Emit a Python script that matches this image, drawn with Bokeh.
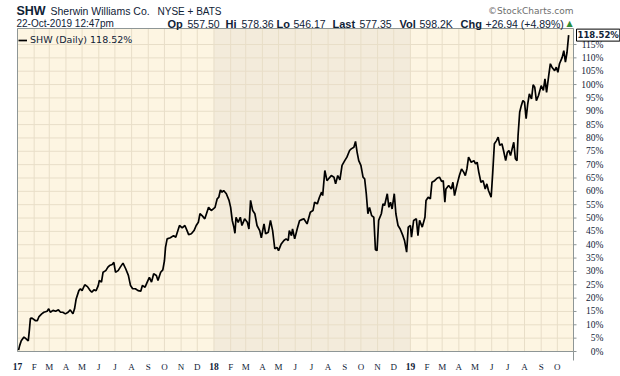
import pandas as pd
from bokeh.plotting import figure
from bokeh.models import Range1d, Label, LabelSet, ColumnDataSource, Legend, LegendItem
from bokeh.embed import file_html
from bokeh.resources import INLINE

# ---------------- data ----------------
ORIGIN = pd.Timestamp("2017-01-01")   # day 0 of the series

days_2017 = [2, 4, 7, 12, 15, 20, 22, 24, 27, 33, 37, 40, 45, 49, 55, 58, 61, 66, 71, 76,
             80, 84, 89, 94, 98, 103, 106, 109, 114, 117, 120, 125, 130, 134, 138, 142, 146, 150, 152, 156,
             159, 164, 168, 171, 176, 179, 182, 187, 191, 196, 201, 206, 210, 214, 219, 224, 229, 232, 237, 241,
             245, 249, 253, 258, 261, 266, 270, 273, 275, 278, 284, 290, 294, 297, 301, 306, 311, 315, 318, 323,
             328, 332, 336, 339, 343, 348, 352, 355, 360]
pct_2017 = [0.5, 2.2, 4.0, 5.4, 4.9, 4.0, 7.9, 12.4, 12.5, 11.6, 11.6, 13.1, 14.1, 14.7, 15.1, 16.0, 14.7, 15.4, 15.1, 15.6,
            14.7, 14.7, 14.1, 14.7, 15.6, 14.1, 16.0, 19.7, 22.8, 23.5, 22.8, 25.0, 24.3, 23.1, 22.2, 23.1, 22.8, 24.7, 26.6, 26.0,
            29.7, 30.3, 31.6, 32.2, 32.6, 33.4, 29.7, 30.3, 31.6, 33.1, 31.0, 28.5, 24.7, 23.5, 23.5, 22.8, 22.6, 24.7, 24.1, 26.0,
            27.8, 26.0, 29.1, 28.5, 26.6, 29.7, 30.6, 34.0, 39.0, 42.2, 42.6, 43.4, 42.8, 44.7, 47.2, 46.3, 47.2, 45.3, 43.8, 44.1,
            45.3, 47.2, 48.4, 51.6, 50.9, 49.7, 52.2, 54.0, 52.8]

days_2018 = [367, 371, 374, 377, 380, 383, 388, 393, 396, 399, 402, 404, 406, 410, 414, 417, 422, 427, 430, 433,
             437, 441, 445, 450, 453, 458, 461, 466, 470, 474, 478, 482, 485, 490, 495, 499, 503, 505, 509, 511,
             515, 520, 524, 528, 532, 538, 544, 549, 552, 557, 561, 565, 567, 571, 575, 578, 583, 588, 591, 595,
             599, 603, 608, 612, 617, 620, 625, 628, 631, 634, 638, 642, 645, 648, 651, 654, 658, 662, 665, 668,
             671, 676, 679, 682, 687, 690, 693, 696, 700, 703, 707, 711, 716, 719, 723, 726]
pct_2018 = [54.0, 57.2, 57.8, 60.5, 59.7, 60.3, 59.1, 56.6, 54.0, 49.1, 46.6, 44.3, 50.3, 48.4, 50.3, 47.2, 49.7, 48.4, 45.9, 56.6,
            52.8, 51.6, 47.2, 45.3, 42.6, 47.8, 44.1, 44.7, 49.1, 45.3, 38.5, 39.0, 37.8, 40.3, 41.6, 42.2, 41.6, 45.3, 43.4, 45.9,
            42.2, 46.2, 49.0, 49.4, 49.7, 47.8, 52.2, 52.8, 55.9, 55.3, 57.8, 59.7, 58.4, 67.8, 64.0, 64.7, 65.9, 65.3, 62.8, 65.9,
            64.3, 69.7, 71.5, 72.8, 75.3, 75.9, 76.5, 78.7, 74.6, 71.5, 69.7, 65.3, 64.7, 59.1, 51.6, 54.0, 50.9, 50.3, 38.1, 37.8,
            49.1, 51.6, 55.3, 54.7, 59.1, 54.0, 55.9, 53.4, 59.1, 51.6, 47.2, 45.9, 43.4, 41.6, 37.2, 46.6]

days_2019 = [730, 732, 736, 741, 744, 747, 752, 757, 759, 763, 767, 770, 775, 780, 784, 788, 791, 794, 796, 801,
             806, 809, 812, 817, 821, 825, 829, 832, 835, 838, 843, 848, 851, 854, 857, 861, 865, 869, 872, 875,
             880, 883, 886, 890, 893, 896, 900, 903, 907, 910, 913, 916, 919, 922, 925, 928, 930, 933, 936, 939,
             942, 945, 948, 951, 955, 958, 961, 964, 968, 973, 977, 980, 983, 987, 990, 993, 998, 1001, 1004, 1007,
             1012, 1015, 1018, 1021, 1024]
pct_2019 = [47.2, 42.8, 49.1, 49.7, 43.4, 49.1, 46.6, 50.3, 56.6, 57.8, 57.2, 63.4, 64.0, 65.0, 65.3, 63.7, 64.0, 55.9, 60.9, 62.2,
            60.9, 63.4, 58.4, 62.8, 65.9, 68.4, 67.2, 65.9, 68.4, 72.8, 70.9, 71.5, 70.3, 70.9, 67.2, 63.4, 64.0, 60.9, 62.8, 60.3,
            57.8, 67.2, 77.8, 79.0, 80.3, 77.2, 77.8, 75.3, 71.5, 74.6, 75.3, 73.4, 75.9, 78.4, 72.2, 71.5, 80.9, 89.6, 92.1, 94.0,
            93.4, 87.2, 92.8, 96.5, 94.6, 99.9, 99.0, 94.0, 95.9, 99.6, 97.8, 102.1, 97.1, 103.4, 107.8, 106.5, 105.2, 106.5, 104.6, 107.8,
            110.2, 112.7, 108.4, 112.1, 118.52]

ticker_symbol = "SHW"
company = "Sherwin Williams Co."
exchange = "NYSE + BATS"
timestamp = "22-Oct-2019 12:47pm"
quote_open = "557.50"
quote_high = "578.36"
quote_low = "546.17"
quote_last = "577.35"
quote_vol = "598.2K"
quote_chg = "+26.94 (+4.89%)"
last_pct = 118.52
legend_text = "SHW (Daily) 118.52%"

month_letters = ["J", "F", "M", "A", "M", "J", "J", "A", "S", "O", "N", "D"]
pct_ticks = list(range(0, 120, 5))
X_END = 1033      # visible days on the x axis
Y_TOP = 121       # top of the % axis

days = days_2017 + days_2018 + days_2019
pct = pct_2017 + pct_2018 + pct_2019
assert len(days) == len(pct)

month_starts = pd.date_range("2017-01-01", "2019-10-01", freq="MS")
month_day = [(m - ORIGIN).days for m in month_starts]
mon_x = [d for d, m in zip(month_day, month_starts) if m.month != 1]
mon_t = [month_letters[m.month - 1] for m in month_starts if m.month != 1]
yr_x = [d for d, m in zip(month_day, month_starts) if m.month == 1]
yr_t = [f"{m.year % 100}" for m in month_starts if m.month == 1]
shade_start = (pd.Timestamp("2018-01-01") - ORIGIN).days
shade_end = (pd.Timestamp("2019-01-01") - ORIGIN).days

# ---------------- style / layout ----------------
W, H = 620, 376
TEXT = "#0f2236"
BG = "#fdf5e2"
SHADE = "#f3ebdb"
GRID = "#e8dec8"
FRAME = "#8e9696"
FL, FR, FT, FB = 17, 573, 28, 351   # chart box edges in canvas pixels

ppd = (FR - FL) / X_END            # pixels per day
ppp = (FB - FT) / Y_TOP            # pixels per percent
x_range = Range1d(-FL / ppd, X_END + (W - FR) / ppd)
y_range = Range1d(-(H - FB) / ppp, Y_TOP + FT / ppp)

p = figure(width=W, height=H, output_backend="svg", toolbar_location=None,
           x_range=x_range, y_range=y_range,
           x_axis_location=None, y_axis_location=None,
           min_border=0, min_border_left=0, min_border_right=0,
           min_border_top=0, min_border_bottom=0)
p.grid.visible = False
p.outline_line_color = None
p.background_fill_color = "white"
p.border_fill_color = "white"

# chart box + 2018 band
p.quad(left=[0], right=[X_END], bottom=[0], top=[Y_TOP], fill_color=BG, line_color=None)
p.quad(left=[shade_start], right=[shade_end], bottom=[0], top=[Y_TOP], fill_color=SHADE, line_color=None)

# grid lines
p.segment(x0=month_day, x1=month_day, y0=[0] * len(month_day), y1=[Y_TOP] * len(month_day),
          line_color=GRID, line_width=1)
p.segment(x0=[0] * len(pct_ticks), x1=[X_END] * len(pct_ticks), y0=pct_ticks, y1=pct_ticks,
          line_color=GRID, line_width=1)

# frame + right ticks
p.quad(left=[0], right=[X_END], bottom=[0], top=[Y_TOP], fill_color=None, line_color=FRAME, line_width=1)
tick_len = 3 / ppd
p.segment(x0=[X_END] * len(pct_ticks), x1=[X_END + tick_len] * len(pct_ticks), y0=pct_ticks, y1=pct_ticks,
          line_color=FRAME, line_width=1)
p.segment(x0=[X_END], x1=[X_END], y0=[0], y1=[-9 / ppp], line_color=FRAME, line_width=1)

# price line
src = ColumnDataSource(dict(day=days, pct=pct))
r = p.line("day", "pct", source=src, line_color="black", line_width=1.7)

lg = Legend(items=[LegendItem(label=legend_text, renderers=[r])], location=(FL + 1, H - 45))
lg.margin = 0
lg.padding = 2
lg.spacing = 0
lg.border_line_color = None
lg.background_fill_alpha = 0
lg.label_text_font = "DejaVu Sans"
lg.label_text_font_size = "9.5px"
lg.label_text_color = TEXT
lg.glyph_width = 9
lg.glyph_height = 10
lg.label_height = 10
lg.label_standoff = 3
p.add_layout(lg)

# x tick labels
p.add_layout(LabelSet(x="x", y=H - 366, y_units="screen", text="t",
                      source=ColumnDataSource(dict(x=mon_x, t=mon_t)),
                      text_font="DejaVu Sans", text_font_size="9px", text_color=TEXT,
                      text_align="center", text_baseline="middle"))
p.add_layout(LabelSet(x="x", y=H - 366, y_units="screen", text="t",
                      source=ColumnDataSource(dict(x=yr_x, t=yr_t)),
                      text_font="DejaVu Sans", text_font_size="9.5px", text_font_style="bold",
                      text_color=TEXT, text_align="center", text_baseline="middle"))
# y tick labels
p.add_layout(LabelSet(x=603, x_units="screen", y="y", text="t",
                      source=ColumnDataSource(dict(y=pct_ticks, t=[f"{v}%" for v in pct_ticks])),
                      text_font="DejaVu Sans", text_font_size="9.5px", text_color=TEXT,
                      text_align="right", text_baseline="middle"))

# last value box
p.add_layout(Label(x=576, x_units="screen", y=last_pct, text=f"{last_pct:.2f}%",
                   text_font="DejaVu Sans", text_font_size="8.5px", text_font_style="bold",
                   text_color=TEXT, text_align="left", text_baseline="middle",
                   background_fill_color="white", border_line_color="black",
                   border_line_width=1, padding=1))


def hdr(text, cx, cy, size, bold=False, color=TEXT, font="Liberation Sans", align="left"):
    p.add_layout(Label(x=cx, y=H - cy, x_units="screen", y_units="screen", text=text,
                       text_font=font, text_font_size=f"{size}px",
                       text_font_style="bold" if bold else "normal",
                       text_color=color, text_align=align, text_baseline="middle"))


hdr(ticker_symbol, 16, 10, 12.5, bold=True)
hdr(company, 50, 10.5, 10.5)
hdr(exchange, 157, 10.5, 10)
hdr("\u00a9StockCharts.com", 573, 10, 9, color="#6e6e6e", font="DejaVu Sans", align="right")
hdr(timestamp, 16, 23, 10)
hdr("Op", 167, 23, 11, bold=True)
hdr(quote_open, 187, 23, 10.5)
hdr("Hi", 225, 23, 11, bold=True)
hdr(quote_high, 241, 23, 10.5)
hdr("Lo", 276, 23, 11, bold=True)
hdr(quote_low, 293, 23, 10.5)
hdr("Last", 332, 23, 11, bold=True)
hdr(quote_last, 359, 23, 10.5)
hdr("Vol", 399, 23, 11, bold=True)
hdr(quote_vol, 419, 23, 10.5)
hdr("Chg", 460, 23, 11, bold=True)
hdr(quote_chg, 485, 23, 10.5)
hdr("\u25b2", 569, 23, 8, color="#2e8b3a", font="DejaVu Sans", align="center")

open("out.html", "w").write(file_html(p, INLINE))
